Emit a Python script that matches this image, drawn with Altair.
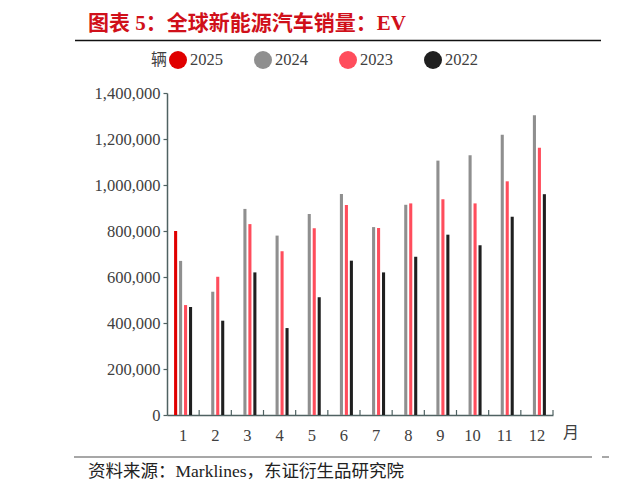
import altair as alt
import pandas as pd

months = list(range(1, 13))
years = ["2025", "2024", "2023", "2022"]
colors = ["#e00000", "#8f8f8f", "#ff4d5c", "#1f1f1f"]
v2025 = [800000]
v2024 = [670000, 536000, 896000, 780000, 874000, 961000, 817000, 914000, 1106000, 1129000, 1219000, 1303000]
v2023 = [478000, 601000, 830000, 712000, 812000, 913000, 813000, 920000, 938000, 920000, 1016000, 1162000]
v2022 = [470000, 410000, 620000, 378000, 512000, 671000, 620000, 688000, 784000, 738000, 862000, 960000]
y_ticks = [0, 200000, 400000, 600000, 800000, 1000000, 1200000, 1400000]

TITLE = "图表 5：全球新能源汽车销量：EV"
SOURCE = "资料来源：Marklines，东证衍生品研究院"
UNIT = "辆"
XUNIT = "月"

rows = []
for yr, vals in zip(years, [v2025, v2024, v2023, v2022]):
    for m, v in zip(months, vals):
        rows.append({"month": m, "year": yr, "value": v})
df = pd.DataFrame(rows)

SERIF = "Liberation Serif, Noto Sans CJK SC"
W, H = 386, 322
AXC = "#4f6262"
TXT = "#404040"

bars = alt.Chart(df).mark_bar().encode(
    x=alt.X("month:O", title=None,
            scale=alt.Scale(paddingInner=0.44, paddingOuter=0.22),
            axis=alt.Axis(labelAngle=0, ticks=False, labelPadding=12, labelFont=SERIF,
                          labelFontSize=16.5, labelColor=TXT, domainColor=AXC, domainWidth=1.5)),
    xOffset=alt.XOffset("year:N", sort=years, scale=alt.Scale(paddingInner=0.38)),
    y=alt.Y("value:Q", title=None,
            scale=alt.Scale(domain=[0, 1400000], nice=False),
            axis=alt.Axis(values=y_ticks, format=",.0f", grid=False, tickSize=4, tickColor=AXC,
                          labelPadding=3, labelFont=SERIF, labelFontSize=16.5, labelColor=TXT,
                          domainColor=AXC, domainWidth=1.5, tickWidth=1.2)),
    color=alt.Color("year:N", sort=years,
                    scale=alt.Scale(domain=years, range=colors),
                    legend=alt.Legend(title=UNIT, titleOrient="left", orient="none",
                                      legendX=-16, legendY=-42, direction="horizontal",
                                      symbolType="circle", symbolSize=324, symbolStrokeWidth=0,
                                      labelFont=SERIF, labelFontSize=16.5, labelColor=TXT,
                                      titleFont=SERIF, titleFontSize=16, titleColor=TXT,
                                      titleFontWeight="normal", labelOffset=3, columnPadding=31,
                                      titlePadding=1)),
)

tick_df = pd.DataFrame({"month": months})
xticks = alt.Chart(tick_df).mark_rule(color=AXC, strokeWidth=1.2).encode(
    x=alt.X("month:O", bandPosition=1, scale=alt.Scale(paddingInner=0, paddingOuter=0), axis=None),
    y=alt.value(H - 5),
    y2=alt.value(H),
)

def txt(s, x, y, size, color, weight="normal", align="left"):
    return alt.Chart(pd.DataFrame({"t": [s]})).mark_text(
        align=align, baseline="middle", font=SERIF, fontSize=size, color=color, fontWeight=weight
    ).encode(text="t:N", x=alt.value(x), y=alt.value(y))

def hrule(x1, x2, y, color, w):
    return alt.Chart(pd.DataFrame({"a": [0]})).mark_rule(color=color, strokeWidth=w).encode(
        x=alt.value(x1), x2=alt.value(x2), y=alt.value(y))

title = txt(TITLE, -79, -69, 21, "#d0101a", weight="bold")
top_line = hrule(-92, 434, -52.5, "#111111", 1.5)
top_line2 = hrule(443, 460, -52.5, "#111111", 1.5)
bot_line = hrule(-93, 425, 364, "#8a8a8a", 1.5)
bot_line2 = hrule(435, 460, 364, "#8a8a8a", 1.5)
source = txt(SOURCE, -79, 379, 17.5, "#222222")
xunit = txt(XUNIT, 396, 340, 16, TXT)

chart = alt.layer(
    bars, xticks, title, top_line, top_line2, bot_line, bot_line2, source, xunit
).resolve_scale(x="independent").properties(
    width=W, height=H,
    autosize=alt.AutoSizeParams(type="none"),
    padding={"left": 159, "top": 85, "right": 56, "bottom": 69},
).configure_view(stroke=None)

chart.save("out.html", embed_options={"renderer": "svg", "actions": False})
